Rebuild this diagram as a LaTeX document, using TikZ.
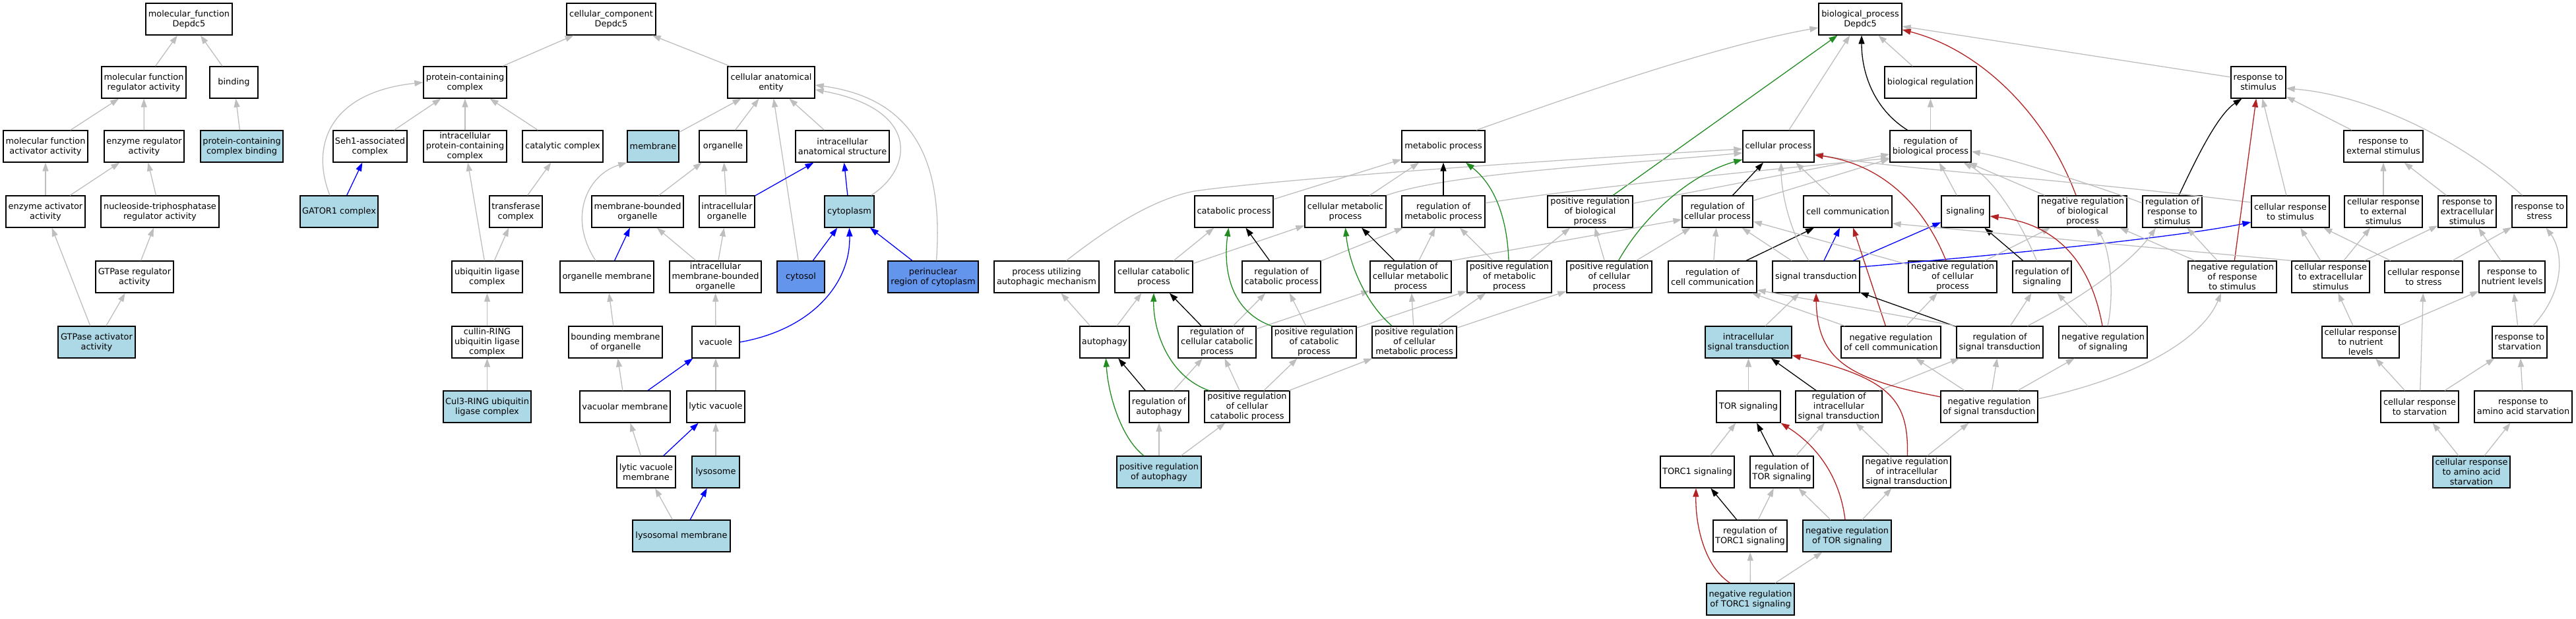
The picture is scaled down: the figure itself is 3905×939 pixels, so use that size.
\documentclass[tikz,border=0pt]{standalone}
\usepackage{fontspec}
\setmainfont{DejaVu Sans}
\usetikzlibrary{arrows.meta,calc}
\definecolor{goblue}{HTML}{ADD8E6}
\definecolor{gocorn}{HTML}{6495ED}
\definecolor{isagray}{HTML}{BEBEBE}
\definecolor{posgreen}{HTML}{228B22}
\definecolor{negred}{HTML}{B22222}
\begin{document}
\begin{tikzpicture}[x=1pt, y=-1pt,
    term/.style={rectangle, draw=black, line width=1.3pt, fill=white, minimum height=48pt,
      inner xsep=1pt, inner ysep=1pt, align=center, font=\fontsize{12.9}{15}\selectfont},
    hit/.style={term, fill=goblue},
    hitdark/.style={term, fill=gocorn},
    edge/.style={line width=1.3pt, -{Triangle[length=13pt,width=9pt]}},
    isa/.style={edge, draw=isagray},
    partof/.style={edge, draw=blue},
    reg/.style={edge, draw=black},
    posreg/.style={edge, draw=posgreen},
    negreg/.style={edge, draw=negred}]
    \useasboundingbox[fill=white] (0,0) rectangle (3905,939);
        \node[term, minimum width=131pt] (mf) at (286.5,29) {molecular\_function\\Depdc5};
        \node[term, minimum width=128pt] (mfreg) at (218,125) {molecular function\\regulator activity};
        \node[term, minimum width=73pt] (bind) at (354.5,125) {binding};
        \node[term, minimum width=128pt] (mfact) at (69,222) {molecular function\\activator activity};
        \node[term, minimum width=121pt] (enzreg) at (218.5,222) {enzyme regulator\\activity};
        \node[hit, minimum width=125pt] (pcbind) at (366.5,222) {protein-containing\\complex binding};
        \node[term, minimum width=120pt] (enzact) at (69,321) {enzyme activator\\activity};
        \node[term, minimum width=179pt] (ntpreg) at (242.5,321) {nucleoside-triphosphatase\\regulator activity};
        \node[term, minimum width=118pt] (gtpreg) at (204,420) {GTPase regulator\\activity};
        \node[hit, minimum width=117pt] (gtpact) at (146.5,519) {GTPase activator\\activity};

        \node[term, minimum width=135pt] (cc) at (926.5,29) {cellular\_component\\Depdc5};
        \node[term, minimum width=126pt] (pcc) at (705,125) {protein-containing\\complex};
        \node[term, minimum width=132pt] (cae) at (1169,125) {cellular anatomical\\entity};
        \node[term, minimum width=112pt] (seh1) at (561,222) {Seh1-associated\\complex};
        \node[term, minimum width=126pt] (ipcc) at (705,222) {intracellular\\protein-containing\\complex};
        \node[term, minimum width=122pt] (catc) at (853,222) {catalytic complex};
        \node[hit, minimum width=78pt] (memb) at (990,222) {membrane};
        \node[term, minimum width=72pt] (org) at (1096,222) {organelle};
        \node[term, minimum width=142pt] (ias) at (1277,222) {intracellular\\anatomical structure};
        \node[hit, minimum width=118pt] (gator) at (514,321) {GATOR1 complex};
        \node[term, minimum width=80pt] (trc) at (782,321) {transferase\\complex};
        \node[term, minimum width=139pt] (mbo) at (966.5,321) {membrane-bounded\\organelle};
        \node[term, minimum width=84pt] (io) at (1102,321) {intracellular\\organelle};
        \node[hit, minimum width=75pt] (cyto) at (1287.5,321) {cytoplasm};
        \node[term, minimum width=107pt] (ulc) at (738.5,420) {ubiquitin ligase\\complex};
        \node[term, minimum width=142pt] (orgm) at (920,420) {organelle membrane};
        \node[term, minimum width=139pt] (imbo) at (1084.5,420) {intracellular\\membrane-bounded\\organelle};
        \node[hitdark, minimum width=72pt] (cytosol) at (1214,420) {cytosol};
        \node[hitdark, minimum width=137pt] (peri) at (1414.5,420) {perinuclear\\region of cytoplasm};
        \node[term, minimum width=107pt] (crulc) at (738.5,519) {cullin-RING\\ubiquitin ligase\\complex};
        \node[term, minimum width=142pt] (bmo) at (933,519) {bounding membrane\\of organelle};
        \node[term, minimum width=72pt] (vac) at (1085,519) {vacuole};
        \node[hit, minimum width=133pt] (cul3) at (738.5,617) {Cul3-RING ubiquitin\\ligase complex};
        \node[term, minimum width=137pt] (vacm) at (947.5,617) {vacuolar membrane};
        \node[term, minimum width=88pt] (lvac) at (1085,617) {lytic vacuole};
        \node[term, minimum width=89pt] (lvm) at (979.5,716) {lytic vacuole\\membrane};
        \node[hit, minimum width=72pt] (lyso) at (1085,716) {lysosome};
        \node[hit, minimum width=148pt] (lysm) at (1033,813) {lysosomal membrane};

        \node[term, minimum width=126pt] (bp) at (2820,29) {biological\_process\\Depdc5};
        \node[term, minimum width=139pt] (breg) at (2926.5,125) {biological regulation};
        \node[term, minimum width=83pt] (rstim) at (3423.5,125) {response to\\stimulus};
        \node[term, minimum width=126pt] (metab) at (2188,222) {metabolic process};
        \node[term, minimum width=108pt] (cellp) at (2696,222) {cellular process};
        \node[term, minimum width=123pt] (rbp) at (2926.5,222) {regulation of\\biological process};
        \node[term, minimum width=120pt] (rext) at (3613,222) {response to\\external stimulus};
        \node[term, minimum width=119pt] (catab) at (1870.5,321) {catabolic process};
        \node[term, minimum width=123pt] (cmetab) at (2039.5,321) {cellular metabolic\\process};
        \node[term, minimum width=126pt] (rmetab) at (2188,321) {regulation of\\metabolic process};
        \node[term, minimum width=129pt] (prbp) at (2410.5,321) {positive regulation\\of biological\\process};
        \node[term, minimum width=107pt] (rcellp) at (2603.5,321) {regulation of\\cellular process};
        \node[term, minimum width=134pt] (ccomm) at (2801,321) {cell communication};
        \node[term, minimum width=73pt] (sig) at (2979.5,321) {signaling};
        \node[term, minimum width=134pt] (nrbp) at (3157,321) {negative regulation\\of biological\\process};
        \node[term, minimum width=90pt] (rrstim) at (3293,321) {regulation of\\response to\\stimulus};
        \node[term, minimum width=118pt] (crstim) at (3472,321) {cellular response\\to stimulus};
        \node[term, minimum width=118pt] (crext) at (3613,321) {cellular response\\to external\\stimulus};
        \node[term, minimum width=88pt] (rexc) at (3740,321) {response to\\extracellular\\stimulus};
        \node[term, minimum width=83pt] (rstress) at (3849.5,321) {response to\\stress};
        \node[term, minimum width=159pt] (pum) at (1586.5,420) {process utilizing\\autophagic mechanism};
        \node[term, minimum width=118pt] (ccatab) at (1749,420) {cellular catabolic\\process};
        \node[term, minimum width=119pt] (rcatab) at (1942.5,420) {regulation of\\catabolic process};
        \node[term, minimum width=123pt] (rcmetab) at (2138.5,420) {regulation of\\cellular metabolic\\process};
        \node[term, minimum width=128pt] (prmetab) at (2288,420) {positive regulation\\of metabolic\\process};
        \node[term, minimum width=129pt] (prcellp) at (2439.5,420) {positive regulation\\of cellular\\process};
        \node[term, minimum width=134pt] (rccomm) at (2596,420) {regulation of\\cell communication};
        \node[term, minimum width=132pt] (st) at (2753,420) {signal transduction};
        \node[term, minimum width=134pt] (nrcellp) at (2960,420) {negative regulation\\of cellular\\process};
        \node[term, minimum width=89pt] (rsig) at (3095.5,420) {regulation of\\signaling};
        \node[term, minimum width=134pt] (nrrstim) at (3384,420) {negative regulation\\of response\\to stimulus};
        \node[term, minimum width=118pt] (crexc) at (3533,420) {cellular response\\to extracellular\\stimulus};
        \node[term, minimum width=118pt] (crstress) at (3674,420) {cellular response\\to stress};
        \node[term, minimum width=100pt] (rnut) at (3808,420) {response to\\nutrient levels};
        \node[term, minimum width=75pt] (autoph) at (1674.5,519) {autophagy};
        \node[term, minimum width=118pt] (rccatab) at (1845,519) {regulation of\\cellular catabolic\\process};
        \node[term, minimum width=128pt] (prcatab) at (1992,519) {positive regulation\\of catabolic\\process};
        \node[term, minimum width=128pt] (prcmetab) at (2144,519) {positive regulation\\of cellular\\metabolic process};
        \node[hit, minimum width=131pt] (ist) at (2650.5,519) {intracellular\\signal transduction};
        \node[term, minimum width=151pt] (nrccomm) at (2866.5,519) {negative regulation\\of cell communication};
        \node[term, minimum width=131pt] (rst) at (3031.5,519) {regulation of\\signal transduction};
        \node[term, minimum width=134pt] (nrsig) at (3188,519) {negative regulation\\of signaling};
        \node[term, minimum width=117pt] (crnut) at (3578.5,519) {cellular response\\to nutrient\\levels};
        \node[term, minimum width=83pt] (rstarv) at (3819.5,519) {response to\\starvation};
        \node[term, minimum width=90pt] (rautoph) at (1757,617) {regulation of\\autophagy};
        \node[term, minimum width=129pt] (prccatab) at (1890.5,617) {positive regulation\\of cellular\\catabolic process};
        \node[term, minimum width=97pt] (tor) at (2650.5,617) {TOR signaling};
        \node[term, minimum width=131pt] (rist) at (2787.5,617) {regulation of\\intracellular\\signal transduction};
        \node[term, minimum width=147pt] (nrst) at (3015.5,617) {negative regulation\\of signal transduction};
        \node[term, minimum width=118pt] (crstarv) at (3668,617) {cellular response\\to starvation};
        \node[term, minimum width=148pt] (raastarv) at (3825,617) {response to\\amino acid starvation};
        \node[hit, minimum width=128pt] (prautoph) at (1757,716) {positive regulation\\of autophagy};
        \node[term, minimum width=112pt] (torc1) at (2573,716) {TORC1 signaling};
        \node[term, minimum width=96pt] (rtor) at (2701,716) {regulation of\\TOR signaling};
        \node[term, minimum width=133pt] (nrist) at (2890.5,716) {negative regulation\\of intracellular\\signal transduction};
        \node[hit, minimum width=117pt] (craastarv) at (3746.5,716) {cellular response\\to amino acid\\starvation};
        \node[term, minimum width=112pt] (rtorc1) at (2653,813) {regulation of\\TORC1 signaling};
        \node[hit, minimum width=134pt] (nrtor) at (2800,813) {negative regulation\\of TOR signaling};
        \node[hit, minimum width=133pt] (nrtorc1) at (2653.5,909) {negative regulation\\of TORC1 signaling};

        \draw[isa] (mfreg) -- (mf);
        \draw[isa] (bind) -- (mf);
        \draw[isa] (mfact) -- (mfreg);
        \draw[isa] (enzreg) -- (mfreg);
        \draw[isa] (pcbind) -- (bind);
        \draw[isa] (enzact) -- (mfact);
        \draw[isa] (enzact) -- (enzreg);
        \draw[isa] (ntpreg) -- (enzreg);
        \draw[isa] (gtpreg) -- (ntpreg);
        \draw[isa] (gtpact) -- (enzact);
        \draw[isa] (gtpact) -- (gtpreg);

        \draw[isa] (pcc) -- (cc);
        \draw[isa] (cae) -- (cc);
        \draw[isa] ([xshift=-14pt]gator.north) .. controls (470,220) and (500,140) .. (pcc.west);
        \draw[partof] (gator) -- (seh1);
        \draw[isa] (seh1) -- (pcc);
        \draw[isa] (ipcc) -- (pcc);
        \draw[isa] (catc) -- (pcc);
        \draw[isa] (memb) -- (cae);
        \draw[isa] (org) -- (cae);
        \draw[isa] (cytosol) -- (cae);
        \draw[isa] (ias) -- (cae);
        \draw[isa] ([xshift=33pt]cyto.north) .. controls (1385,255) and (1395,165) .. ($(cae.east)+(0,11)$);
        \draw[isa] ([xshift=5pt]peri.north) .. controls (1430,250) and (1390,150) .. ($(cae.east)+(0,4)$);
        \draw[isa] (trc) -- (catc);
        \draw[isa] (ulc) -- (ipcc);
        \draw[isa] (ulc) -- (trc);
        \draw[isa] ([xshift=-17pt]orgm.north) .. controls (860,330) and (890,265) .. (memb.south west);
        \draw[partof] (orgm) -- (mbo);
        \draw[isa] (mbo) -- (org);
        \draw[isa] (io) -- (org);
        \draw[partof] (io) -- (ias);
        \draw[isa] (imbo) -- (mbo);
        \draw[isa] (imbo) -- (io);
        \draw[partof] (cyto) -- (ias);
        \draw[partof] (cytosol) -- (cyto);
        \draw[partof] (peri) -- (cyto);
        \draw[partof] (vac.east) .. controls (1230,500) and (1290,430) .. (cyto.south);
        \draw[isa] (crulc) -- (ulc);
        \draw[isa] (bmo) -- (orgm);
        \draw[isa] (vac) -- (imbo);
        \draw[isa] (cul3) -- (crulc);
        \draw[isa] (vacm) -- (bmo);
        \draw[partof] (vacm) -- (vac);
        \draw[isa] (lvac) -- (vac);
        \draw[isa] (lvm) -- (vacm);
        \draw[partof] (lvm) -- (lvac);
        \draw[isa] (lyso) -- (lvac);
        \draw[isa] (lysm) -- (lvm);
        \draw[partof] (lysm) -- (lyso);

        \draw[isa] (breg) -- (bp);
        \draw[isa] ($(rstim.west)+(0,-8)$) -- ($(bp.east)+(0,11)$);
        \draw[isa] ([xshift=50pt]metab.north) .. controls (2400,140) and (2600,70) .. ($(bp.west)+(0,13)$);
        \draw[isa] (cellp) -- (bp);
        \draw[reg] ([xshift=-35pt]rbp.north) .. controls (2840,165) and (2822,110) .. ([xshift=2pt]bp.south);
        \draw[isa] (rbp) -- (breg);
        \draw[negreg] ([xshift=-10pt]nrbp.north) .. controls (3100,170) and (3000,75) .. ($(bp.east)+(0,16)$);
        \draw[posreg] (prbp) -- (bp);
        \draw[isa] (rext) -- (rstim);
        \draw[isa] ([xshift=-26pt]rstress.north) .. controls (3740,220) and (3600,145) .. ($(rstim.east)+(0,9)$);
        \draw[isa] (catab) -- (metab);
        \draw[isa] (cmetab) -- (metab);
        \draw[isa] (cmetab.north east) .. controls (2200,262) and (2450,250) .. ($(cellp.west)+(0,10)$);
        \draw[isa] ([xshift=30pt]pum.north) .. controls (1700,330) and (1760,300) .. (1810,290)
            .. controls (1950,270) and (2400,240) .. ($(cellp.west)+(0,4)$);
        \draw[reg] (rmetab) -- (metab);
        \draw[isa] ($(rmetab.east)+(0,-13)$) .. controls (2400,285) and (2700,255) .. ($(rbp.west)+(0,18)$);
        \draw[isa] (prbp) -- (rbp);
        \draw[reg] (rcellp) -- (cellp);
        \draw[isa] (rcellp) -- (rbp);
        \draw[isa] (ccomm) -- (cellp);
        \draw[isa] (sig) -- (rbp);
        \draw[isa] (nrbp) -- (rbp);
        \draw[reg] ([xshift=10pt]rrstim.north) .. controls (3325,250) and (3360,175) .. ([xshift=-25pt]rstim.south);
        \draw[isa] ($(rrstim.west)+(0,-13)$) .. controls (3200,290) and (3050,240) .. ($(rbp.east)+(0,8)$);
        \draw[isa] (crstim) -- (rstim);
        \draw[isa] ($(crstim.west)+(0,-14)$) .. controls (3100,268) and (2850,255) .. ($(cellp.east)+(0,11)$);
        \draw[isa] (crext) -- (rext);
        \draw[isa] (rexc) -- (rext);

        \draw[isa] (ccatab) -- (catab);
        \draw[isa] (ccatab) -- (cmetab);
        \draw[reg] (rcatab) -- (catab);
        \draw[isa] (rcatab) -- (rmetab);
        \draw[isa] (autoph) -- (pum);
        \draw[isa] (autoph) -- (ccatab);
        \draw[reg] (rccatab) -- (ccatab);
        \draw[isa] (rccatab) -- (rcatab);
        \draw[isa] (rccatab) -- (rcmetab);
        \draw[isa] (prcatab) -- (rcatab);
        \draw[posreg] (prcatab.north west) .. controls (1860,470) and (1855,400) .. ([xshift=-8pt]catab.south);
        \draw[isa] (prcatab) -- (prmetab);
        \draw[isa] (prcmetab) -- (prmetab);
        \draw[isa] (prcmetab) -- (rcmetab);
        \draw[isa] (prcmetab) -- (prcellp);
        \draw[posreg] ([xshift=-34pt]prcmetab.north) .. controls (2070,460) and (2045,400) .. (cmetab.south);
        \draw[reg] (rcmetab) -- (cmetab);
        \draw[isa] (rcmetab) -- (rmetab);
        \draw[isa] (rcmetab.north east) -- ($(rcellp.west)+(0,12)$);
        \draw[isa] (prmetab) -- (rmetab);
        \draw[isa] (prmetab) -- (prbp);
        \draw[posreg] ([xshift=-1pt]prmetab.north) .. controls (2285,330) and (2265,280) .. ([xshift=34pt]metab.south);
        \draw[posreg] ([xshift=14pt]prcellp.north) .. controls (2490,330) and (2560,265) .. ($(cellp.west)+(0,20)$);
        \draw[isa] (prcellp) -- (prbp);
        \draw[isa] (prcellp) -- (rcellp);
        \draw[reg] (rautoph) -- (autoph);
        \draw[isa] (rautoph) -- (rccatab);
        \draw[posreg] ([xshift=-58pt]prccatab.north) .. controls (1770,570) and (1748,500) .. (ccatab.south);
        \draw[isa] (prccatab) -- (rccatab);
        \draw[isa] (prccatab) -- (prcatab);
        \draw[isa] (prccatab) -- (prcmetab);
        \draw[posreg] ([xshift=-23pt]prautoph.north) .. controls (1700,665) and (1680,600) .. ([xshift=2pt]autoph.south);
        \draw[isa] (prautoph) -- (rautoph);
        \draw[isa] (prautoph) -- (prccatab);

        \draw[reg] (rccomm) -- (ccomm);
        \draw[isa] (rccomm) -- (rcellp);
        \draw[partof] (st) -- (ccomm);
        \draw[isa] ([xshift=-11pt]st.north) .. controls (2712,350) and (2700,290) .. ([xshift=4pt]cellp.south);
        \draw[partof] (st) -- (sig);
        \draw[partof] ($(st.east)+(0,-15)$) .. controls (3050,385) and (3300,360) .. ($(crstim.west)+(0,16)$);
        \draw[isa] (st) -- (rcellp);
        \draw[negreg] ([xshift=-10pt]nrcellp.north) .. controls (2920,320) and (2860,250) .. ($(cellp.east)+(0,13)$);
        \draw[isa] (nrcellp) -- (rcellp);
        \draw[isa] (nrcellp) -- (nrbp);
        \draw[reg] (rsig) -- (sig);
        \draw[isa] ([xshift=-8pt]rsig.north) .. controls (3060,330) and (3020,270) .. ([xshift=50pt]rbp.south);
        \draw[negreg] (nrrstim) -- (rstim);
        \draw[isa] (nrrstim) -- (rrstim);
        \draw[isa] (nrrstim) -- (nrbp);
        \draw[isa] (crexc) -- (crstim);
        \draw[isa] (crexc) -- (rexc);
        \draw[isa] (crexc) -- (crext);
        \draw[isa] (crexc.north west) -- ($(ccomm.east)+(0,18)$);
        \draw[isa] (crstress) -- (crstim);
        \draw[isa] (crstress) -- (rstress);
        \draw[isa] (rnut) -- (rexc);
        \draw[isa] (ist) -- (st);
        \draw[negreg] (nrccomm) -- (ccomm);
        \draw[isa] (nrccomm) -- ([xshift=-8pt]rccomm.south east);
        \draw[isa] (nrccomm) -- (nrcellp);
        \draw[reg] (rst) -- (st);
        \draw[isa] (rst.north west) -- ($(rccomm.east)+(0,20)$);
        \draw[isa] (rst) -- (rsig);
        \draw[isa] ([xshift=42pt]rst.north) .. controls (3150,455) and (3230,400) .. ([xshift=-25pt]rrstim.south);
        \draw[negreg] ([xshift=-1pt]nrsig.north) .. controls (3170,400) and (3120,340) .. ($(sig.east)+(0,7)$);
        \draw[isa] (nrsig) -- (rsig);
        \draw[isa] ([xshift=7pt]nrsig.north) .. controls (3205,450) and (3200,380) .. ([xshift=20pt]nrbp.south);
        \draw[isa] (crnut) -- (crexc);
        \draw[isa] (crnut) -- (rnut);
        \draw[isa] (rstarv) -- (rnut);
        \draw[isa] ([xshift=20pt]rstarv.north) .. controls (3890,440) and (3885,380) .. ([xshift=10pt]rstress.south);
        \draw[isa] (tor) -- (ist);
        \draw[reg] (rist) -- (ist);
        \draw[isa] (rist) -- (rst);
        \draw[negreg] ($(nrst.west)+(0,-15)$) .. controls (2800,575) and (2755,545) .. (st.south);
        \draw[isa] (nrst) -- (rst);
        \draw[isa] (nrst) -- (nrccomm);
        \draw[isa] (nrst) -- (nrsig);
        \draw[isa] ($(nrst.east)+(0,-12)$) .. controls (3250,570) and (3340,510) .. ([xshift=-17pt]nrrstim.south);
        \draw[isa] (crstarv) -- (crnut);
        \draw[isa] (crstarv) -- (crstress);
        \draw[isa] (crstarv) -- (rstarv);
        \draw[isa] (raastarv) -- (rstarv);
        \draw[isa] (torc1) -- (tor);
        \draw[reg] (rtor) -- (tor);
        \draw[isa] (rtor) -- (rist);
        \draw[negreg] ([xshift=1pt]nrist.north) .. controls (2893,610) and (2870,575) .. ($(ist.east)+(0,20)$);
        \draw[isa] (nrist) -- (rist);
        \draw[isa] (nrist) -- (nrst);
        \draw[isa] (craastarv) -- (crstarv);
        \draw[isa] (craastarv) -- (raastarv);
        \draw[reg] (rtorc1) -- (torc1);
        \draw[isa] (rtorc1) -- (rtor);
        \draw[negreg] ([xshift=-3pt]nrtor.north) .. controls (2790,730) and (2760,680) .. (tor.south east);
        \draw[isa] (nrtor) -- (rtor);
        \draw[isa] (nrtor) -- (nrist);
        \draw[negreg] ([xshift=-31pt]nrtorc1.north) .. controls (2585,860) and (2570,800) .. ([xshift=-2pt]torc1.south);
        \draw[isa] (nrtorc1) -- (rtorc1);
        \draw[isa] (nrtorc1) -- (nrtor);
\end{tikzpicture}
\end{document}
